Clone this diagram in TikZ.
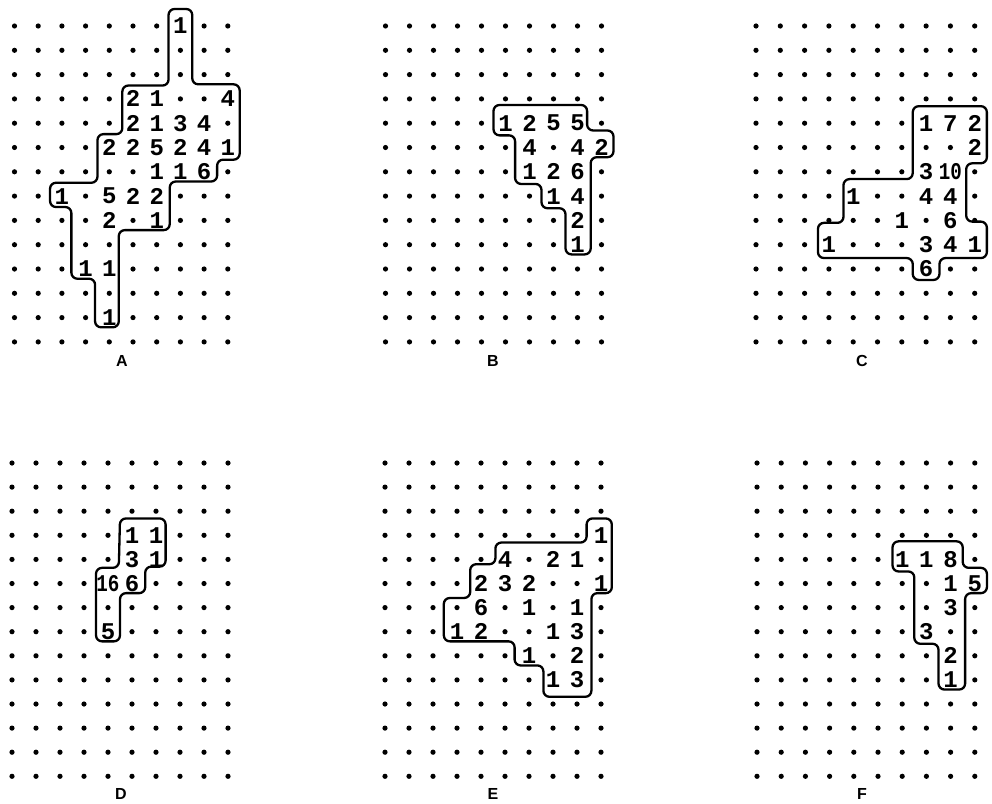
\documentclass[tikz,border=0pt]{standalone}
\usepackage{fontspec}
\newfontfamily\digfont{Liberation Mono}
\newfontfamily\narrowfont[FakeStretch=0.8]{Liberation Mono}
\newfontfamily\labfont{Liberation Sans}
\newcommand{\dotpanel}[7]{%
  \begin{scope}[xshift=#2pt-#3pt, yshift=-#4pt+#5pt, x=#3pt, y=-#5pt]
    \foreach \c in {1,...,10}{\foreach \r in {1,...,14}{\fill (\c,\r) circle[radius=2.6pt];}}
    \foreach \c/\r/\t in {#6}{\node[num] (#1-\c-\r) at (\c,\r) {\t};}
    \draw[outline] #7;
  \end{scope}}
\begin{document}
\begin{tikzpicture}[x=1pt,y=-1pt,
  num/.style={font=\digfont\bfseries\fontsize{24}{24}\selectfont, fill=white, inner sep=1pt},
  outline/.style={line width=2.3pt, rounded corners=6pt, line join=round},
  lab/.style={font=\labfont\bfseries\fontsize{16}{16}\selectfont, inner sep=0pt}]
\useasboundingbox[fill=white] (0,0) rectangle (992,803);

% Panel A
\dotpanel{A}{14.5}{23.7}{26}{24.3}{%
 8/1/1, 6/4/2, 7/4/1, 10/4/4,
 6/5/2, 7/5/1, 8/5/3, 9/5/4,
 5/6/2, 6/6/2, 7/6/5, 8/6/2, 9/6/4, 10/6/1,
 7/7/1, 8/7/1, 9/7/6,
 3/8/1, 5/8/5, 6/8/2, 7/8/2,
 5/9/2, 7/9/1, 4/11/1, 5/11/1, 5/13/1}{%
 (7.5,0.3) -- (8.5,0.3) -- (8.5,3.4) -- (10.5,3.4) -- (10.5,6.5) -- (9.55,6.5) -- (9.55,7.4) -- (7.55,7.4) -- (7.55,9.4) -- (5.4,9.4) -- (5.4,13.4) -- (4.4,13.4) -- (4.4,11.4) -- (3.4,11.4) -- (3.4,8.45) -- (2.5,8.45) -- (2.5,7.45) -- (4.5,7.45) -- (4.5,5.45) -- (5.55,5.45) -- (5.55,3.45) -- (7.5,3.45) -- cycle}

% Panel B
\dotpanel{B}{385.5}{24}{26}{24.3}{%
 6/5/1, 7/5/2, 8/5/5, 9/5/5,
 7/6/4, 9/6/4, 10/6/2,
 7/7/1, 8/7/2, 9/7/6,
 8/8/1, 9/8/4, 9/9/2, 9/10/1}{%
 (5.5,4.25) -- (9.4,4.25) -- (9.4,5.3) -- (10.5,5.3) -- (10.5,6.4) -- (9.55,6.4) -- (9.55,10.4) -- (8.5,10.4) -- (8.5,8.5) -- (7.5,8.5) -- (7.5,7.5) -- (6.4,7.5) -- (6.4,5.5) -- (5.5,5.5) -- cycle}

% Panel C
\dotpanel{C}{756}{24.3}{26}{24.3}{%
 8/5/1, 9/5/7, 10/5/2, 10/6/2,
 8/7/3, 9/7/{\narrowfont 10},
 5/8/1, 8/8/4, 9/8/4,
 7/9/1, 9/9/6,
 4/10/1, 8/10/3, 9/10/4, 10/10/1, 8/11/6}{%
 (7.45,4.3) -- (10.5,4.3) -- (10.5,6.65) -- (9.65,6.65) -- (9.65,9.05) -- (10.5,9.05) -- (10.5,10.55) -- (8.55,10.55) -- (8.55,11.45) -- (7.45,11.45) -- (7.45,10.55) -- (3.55,10.55) -- (3.55,9.1) -- (4.6,9.1) -- (4.6,7.3) -- (7.45,7.3) -- cycle}

% Panel D
\dotpanel{D}{12}{24}{463}{24.1}{%
 6/4/1, 7/4/1, 6/5/3, 7/5/1,
 5/6/{\narrowfont 16}, 6/6/6, 5/8/5}{%
 (5.5,3.3) -- (7.4,3.3) -- (7.4,5.3) -- (6.55,5.3) -- (6.55,6.4) -- (5.5,6.4) -- (5.5,8.4) -- (4.5,8.4) -- (4.5,5.35) -- (5.45,5.35) -- cycle}

% Panel E
\dotpanel{E}{385}{24}{463}{24.1}{%
 10/4/1, 6/5/4, 8/5/2, 9/5/1,
 5/6/2, 6/6/3, 7/6/2, 10/6/1,
 5/7/6, 7/7/1, 9/7/1,
 4/8/1, 5/8/2, 8/8/1, 9/8/3,
 7/9/1, 9/9/2, 8/10/1, 9/10/3}{%
 (9.4,3.3) -- (10.45,3.3) -- (10.45,6.4) -- (9.6,6.4) -- (9.6,10.7) -- (7.6,10.7) -- (7.6,9.4) -- (6.4,9.4) -- (6.4,8.4) -- (3.45,8.4) -- (3.45,6.6) -- (4.55,6.6) -- (4.55,5.2) -- (5.6,5.2) -- (5.6,4.3) -- (9.4,4.3) -- cycle}

% Panel F
\dotpanel{F}{757}{24.2}{463}{24.1}{%
 7/5/1, 8/5/1, 9/5/8, 9/6/1, 10/6/5,
 9/7/3, 8/8/3, 9/9/2, 9/10/1}{%
 (6.6,4.25) -- (9.5,4.25) -- (9.5,5.35) -- (10.5,5.35) -- (10.5,6.4) -- (9.6,6.4) -- (9.6,10.4) -- (8.5,10.4) -- (8.5,8.5) -- (7.5,8.5) -- (7.5,5.5) -- (6.6,5.5) -- cycle}

% Labels
\node[lab] (labA) at (122,361) {A};
\node[lab] (labB) at (493,361) {B};
\node[lab] (labC) at (862,361) {C};
\node[lab] (labD) at (121,794) {D};
\node[lab] (labE) at (493,794) {E};
\node[lab] (labF) at (862,794) {F};
\end{tikzpicture}
\end{document}
